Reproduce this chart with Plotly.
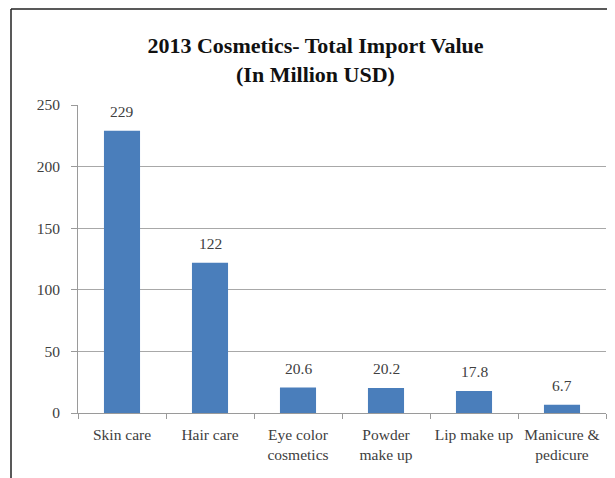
import plotly.graph_objects as go

categories = ["Skin care", "Hair care", "Eye color cosmetics", "Powder make up", "Lip make up", "Manicure & pedicure"]
tick_labels = ["Skin care", "Hair care", "Eye color<br>cosmetics", "Powder<br>make up", "Lip make up", "Manicure &<br>pedicure"]
values = [229, 122, 20.6, 20.2, 17.8, 6.7]
value_labels = ["229", "122", "20.6", "20.2", "17.8", "6.7"]

FONT = "Liberation Serif, Times New Roman, serif"
TXT = "#404040"

fig = go.Figure(go.Bar(
    x=categories, y=values,
    marker=dict(color="#4a7ebb", line=dict(width=0)),
    width=0.41, cliponaxis=False,
))

# value labels above bars, placed through the axes
for c, v, t in zip(categories, values, value_labels):
    fig.add_annotation(
        x=c, y=v, text=t, showarrow=False, xref="x", yref="y",
        yanchor="bottom", yshift=9,
        font=dict(family=FONT, size=15.5, color=TXT),
    )

# page has an 8px body offset; figure coords = page coords - 8
L, R, T, B = 70, 17, 97, 73
W, H = 615, 478
pw, ph = W - L - R, H - T - B

def px(x):
    return (x - L) / pw

def py(y):
    return (H - B - y) / ph

fig.update_layout(
    width=W, height=H,
    margin=dict(l=L, r=R, t=T, b=B),
    paper_bgcolor="white", plot_bgcolor="white",
    showlegend=False,
    title=dict(
        text="<b>2013 Cosmetics- Total Import Value<br>(In Million USD)</b>",
        x=0.5, xanchor="center", y=1 - 45 / 478, yanchor="middle",
        font=dict(family=FONT, size=22, color="#111111"),
    ),
    xaxis=dict(
        type="category", tickmode="array", tickvals=categories, ticktext=tick_labels,
        showline=True, linecolor="#9a9a9a", linewidth=1,
        ticks="outside", tickson="boundaries", ticklen=5, tickcolor="#9a9a9a",
        tickfont=dict(family=FONT, size=15.5, color=TXT),
        ticklabelstandoff=7,
        showgrid=False,
    ),
    yaxis=dict(
        range=[0, 250], dtick=50, showline=True, linecolor="#9a9a9a", linewidth=1,
        ticks="outside", ticklen=6, tickcolor="#9a9a9a",
        gridcolor="#a8a8a8", gridwidth=1,
        tickfont=dict(family=FONT, size=15.5, color=TXT),
        ticklabelstandoff=8,
        zeroline=False,
    ),
    shapes=[
        dict(type="line", xref="paper", yref="paper", x0=px(3), x1=px(615), y0=py(1), y1=py(1),
             line=dict(color="#222222", width=1.5)),
        dict(type="line", xref="paper", yref="paper", x0=px(3), x1=px(3), y0=py(1), y1=py(478),
             line=dict(color="#222222", width=1.5)),
    ],
)

fig.write_html("out.html")
